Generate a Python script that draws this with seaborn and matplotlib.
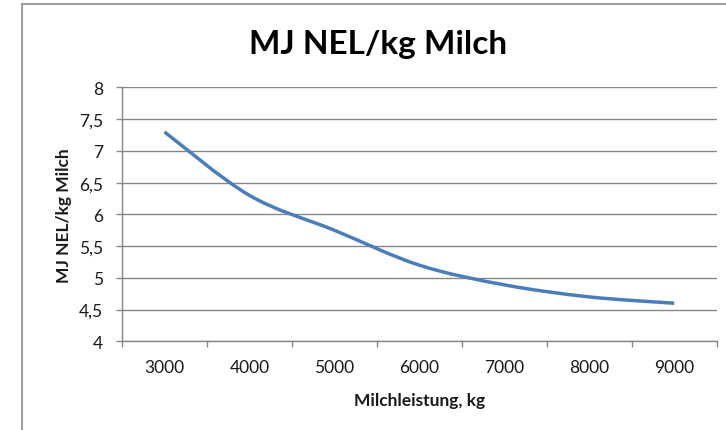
import matplotlib
matplotlib.use("Agg")
import matplotlib.pyplot as plt
import seaborn as sns
import pandas as pd
from matplotlib.path import Path
from matplotlib.patches import PathPatch, Rectangle

# Energy requirement per kg milk by annual milk yield
milk_yield = ["3000", "4000", "5000", "6000", "7000", "8000", "9000"]
mj_nel_per_kg = [7.30, 6.30, 5.75, 5.20, 4.89, 4.70, 4.60]
y_ticks = [4, 4.5, 5, 5.5, 6, 6.5, 7, 7.5, 8]
y_tick_labels = ["4", "4,5", "5", "5,5", "6", "6,5", "7", "7,5", "8"]

title = "MJ NEL/kg Milch"
x_label = "Milchleistung, kg"
y_label = "MJ NEL/kg Milch"

sns.set_style("white")
plt.rcParams["font.family"] = ["Lato", "DejaVu Sans"]

df = pd.DataFrame({"pos": range(len(milk_yield)), "value": mj_nel_per_kg})

fig = plt.figure(figsize=(7.26, 4.31), dpi=100)
ax = fig.add_axes([0.168, 0.2058, 0.8192, 0.5889])

grid_color = "#868686"
line_color = "#4A7EBB"
text_color = "#1a1a1a"

sns.lineplot(data=df, x="pos", y="value", ax=ax, color=line_color, linewidth=2.5)

# Replace the polyline by a smoothed Bezier through the same points
line = ax.lines[0]
xs, ys = line.get_xdata(), line.get_ydata()
line.remove()
verts = [(xs[0], ys[0])]
codes = [Path.MOVETO]
n = len(xs)
for i in range(n - 1):
    p0 = (xs[i - 1], ys[i - 1]) if i > 0 else (xs[i], ys[i])
    p1 = (xs[i], ys[i])
    p2 = (xs[i + 1], ys[i + 1])
    p3 = (xs[i + 2], ys[i + 2]) if i + 2 < n else p2
    c1 = (p1[0] + (p2[0] - p0[0]) / 6, p1[1] + (p2[1] - p0[1]) / 6)
    c2 = (p2[0] - (p3[0] - p1[0]) / 6, p2[1] - (p3[1] - p1[1]) / 6)
    verts += [c1, c2, p2]
    codes += [Path.CURVE4] * 3
ax.add_patch(PathPatch(Path(verts, codes), facecolor="none", edgecolor=line_color,
                       linewidth=2.5, capstyle="butt", zorder=3))

ax.set_xlim(-0.5, len(milk_yield) - 0.5)
ax.set_ylim(4, 8)

# Category axis: tick marks between categories, labels centred on them
ax.set_xticks([i - 0.5 for i in range(len(milk_yield) + 1)])
ax.set_xticklabels([])
ax.set_xticks(range(len(milk_yield)), minor=True)
ax.set_xticklabels(milk_yield, minor=True)
ax.tick_params(axis="x", which="major", direction="out", length=4.5, width=1,
               color=grid_color, bottom=True)
ax.tick_params(axis="x", which="minor", length=0, pad=13, labelsize=12.5,
               labelcolor=text_color)

ax.set_yticks(y_ticks)
ax.set_yticklabels(y_tick_labels)
ax.tick_params(axis="y", direction="out", length=4.5, width=1, color=grid_color,
               left=True, pad=9, labelsize=12.5, labelcolor=text_color)

ax.grid(axis="y", color=grid_color, linewidth=1)
ax.set_axisbelow(True)
for side in ["top", "right"]:
    ax.spines[side].set_visible(False)
for side in ["left", "bottom"]:
    ax.spines[side].set_color(grid_color)
    ax.spines[side].set_linewidth(1)

ax.set_xlabel(x_label, fontsize=12.5, fontweight="bold", labelpad=12,
              color=text_color)
ax.set_ylabel(y_label, fontsize=12.5, fontweight="bold", labelpad=5,
              color=text_color)

fig.text(0.521, 0.897, title, ha="center", va="center", fontsize=24,
         fontweight="bold", color="#000000")

# Chart frame
fig.patches.append(Rectangle((22 / 726, -0.1), 1.2, 1.1 - 4.5 / 431,
                             transform=fig.transFigure, fill=False,
                             edgecolor="#A0A0A0", linewidth=1.5))

fig.savefig("out.png", dpi=100)
